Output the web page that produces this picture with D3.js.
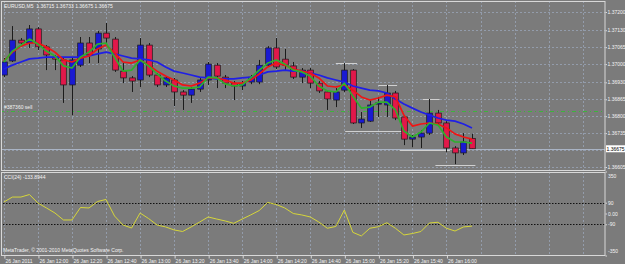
<!DOCTYPE html>
<html>
<head>
<meta charset="utf-8">
<script src="https://cdn.jsdelivr.net/npm/d3@7"></script>
<style>
  html, body { margin: 0; padding: 0; background: #7b7b7b; }
  svg { display: block; }
  text { font-family: "Liberation Sans", Arial, sans-serif; font-size: 5px; fill: #f4f4f4; }
</style>
</head>
<body>
<div id="chart"></div>
<script>
// EURUSD M5, 26 Jan 2011 11:40 .. 16:15, one entry per bar
const open  = [1.36958,1.37012,1.37092,1.37081,1.37135,1.37066,1.37027,1.37016,1.36920,1.36996,
               1.37081,1.37058,1.37119,1.37096,1.36973,1.36947,1.36939,1.37073,1.36958,1.36920,
               1.36939,1.36893,1.36881,1.36904,1.36939,1.36996,1.36950,1.36927,1.36916,1.36931,
               1.36931,1.36996,1.37062,1.37019,1.36993,1.36950,1.36977,1.36927,1.36893,1.36862,
               1.36900,1.36977,1.36774,1.36781,1.36847,1.36843,1.36889,1.36797,1.36712,1.36720,
               1.36735,1.36812,1.36774,1.36678,1.36659,1.36715];
const high  = [1.37023,1.37146,1.37100,1.37150,1.37142,1.37073,1.37035,1.37023,1.37027,1.37104,
               1.37104,1.37127,1.37158,1.37104,1.37004,1.36954,1.37100,1.37081,1.36966,1.36954,
               1.36947,1.36900,1.36912,1.36947,1.37008,1.37004,1.36958,1.36935,1.36935,1.36958,
               1.37016,1.37069,1.37100,1.37058,1.37008,1.36985,1.36985,1.36935,1.36900,1.36908,
               1.37004,1.36981,1.36816,1.36862,1.36874,1.36920,1.36897,1.36804,1.36728,1.36747,
               1.36866,1.36824,1.36781,1.36685,1.36735,1.36733];
const low   = [1.36950,1.37008,1.37069,1.37062,1.37054,1.36977,1.36977,1.36851,1.36804,1.36989,
               1.37004,1.37004,1.37081,1.36970,1.36927,1.36893,1.36912,1.36950,1.36912,1.36912,
               1.36839,1.36824,1.36851,1.36893,1.36920,1.36908,1.36908,1.36862,1.36900,1.36923,
               1.36923,1.36989,1.36981,1.36977,1.36943,1.36927,1.36908,1.36889,1.36824,1.36835,
               1.36893,1.36770,1.36755,1.36778,1.36797,1.36797,1.36785,1.36689,1.36681,1.36678,
               1.36728,1.36766,1.36662,1.36616,1.36651,1.36675];
const close = [1.37008,1.37092,1.37081,1.37135,1.37066,1.37035,1.37019,1.36920,1.37016,1.37081,
               1.37035,1.37119,1.37100,1.36977,1.36947,1.36935,1.37073,1.36958,1.36920,1.36947,
               1.36893,1.36881,1.36904,1.36939,1.37000,1.36954,1.36927,1.36916,1.36927,1.36950,
               1.36996,1.37062,1.36989,1.36996,1.36950,1.36977,1.36927,1.36897,1.36866,1.36893,
               1.36977,1.36774,1.36789,1.36843,1.36851,1.36889,1.36793,1.36712,1.36720,1.36735,
               1.36812,1.36774,1.36678,1.36659,1.36701,1.36675];

const maSlow = [1.36981,1.36996,1.37008,1.37020,1.37023,1.37027,1.37027,1.37027,1.37027,1.37027,
                1.37031,1.37039,1.37046,1.37039,1.37031,1.37023,1.37020,1.37016,1.37008,1.36989,
                1.36973,1.36966,1.36958,1.36950,1.36947,1.36943,1.36943,1.36943,1.36947,1.36950,
                1.36958,1.36970,1.36973,1.36977,1.36973,1.36973,1.36966,1.36958,1.36947,1.36939,
                1.36931,1.36916,1.36908,1.36900,1.36897,1.36889,1.36866,1.36847,1.36831,1.36816,
                1.36804,1.36793,1.36785,1.36781,1.36770,1.36755];
const maMid  = [1.37012,1.37046,1.37069,1.37081,1.37081,1.37066,1.37046,1.37016,1.37008,1.37023,
                1.37031,1.37058,1.37073,1.37043,1.37008,1.37004,1.37016,1.36996,1.36973,1.36954,
                1.36939,1.36920,1.36916,1.36927,1.36947,1.36947,1.36939,1.36927,1.36927,1.36939,
                1.36962,1.36989,1.37004,1.36996,1.36981,1.36973,1.36966,1.36947,1.36916,1.36912,
                1.36920,1.36900,1.36874,1.36862,1.36870,1.36881,1.36874,1.36804,1.36762,1.36770,
                1.36774,1.36770,1.36755,1.36732,1.36720,1.36712];
const maFast = [1.37008,1.37050,1.37073,1.37096,1.37077,1.37050,1.37031,1.36993,1.36985,1.37027,
                1.37046,1.37077,1.37081,1.37027,1.36973,1.36977,1.37016,1.36993,1.36962,1.36935,
                1.36916,1.36908,1.36908,1.36912,1.36950,1.36947,1.36924,1.36916,1.36920,1.36947,
                1.36977,1.37004,1.37016,1.37000,1.36977,1.36970,1.36954,1.36916,1.36897,1.36893,
                1.36927,1.36877,1.36831,1.36835,1.36854,1.36854,1.36824,1.36743,1.36720,1.36739,
                1.36774,1.36766,1.36720,1.36701,1.36701,1.36697];

const cci = [96,137,137,158,87,46,4,-54,-54,50,
             46,100,117,-21,-96,-121,4,-42,-96,-112,
             -137,-150,-112,-71,-29,-46,-62,-82,-46,-12,
             25,92,75,46,0,-12,-29,-71,-123,-108,
             29,-157,-187,-123,-110,-77,-123,-179,-167,-150,
             -79,-73,-123,-146,-112,-105];

// light horizontal segments (bar index from, bar index to, price)
const levelFrom  = [39.0, 44.0, 49.2, 40.1, 46.5, 50.7];
const levelTo    = [41.5, 46.2, 51.2, 47.5, 52.4, 55.4];
const levelPrice = [1.37004, 1.36918, 1.36866, 1.36745, 1.36670, 1.36612];

const priceTicks = [1.37200, 1.37130, 1.37065, 1.37000, 1.36930, 1.36865, 1.36800, 1.36735, 1.36670, 1.36605];
const timeLabels = ["26 Jan 2011", "26 Jan 12:00", "26 Jan 12:20", "26 Jan 12:40", "26 Jan 13:00",
                    "26 Jan 13:20", "26 Jan 13:40", "26 Jan 14:00", "26 Jan 14:20", "26 Jan 14:40",
                    "26 Jan 15:00", "26 Jan 15:20", "26 Jan 15:40", "26 Jan 16:00"];
const timeLabelBars = [0, 4, 8, 12, 16, 20, 24, 28, 32, 36, 40, 44, 48, 52];
const gridBars = [0, 4, 8, 12, 16, 20, 24, 28, 32, 36, 40, 44, 48, 52, 56, 60, 64, 68];
const cciTicks = [350, 90, 0, -90, -350];
const cciLevels = [90, -90];

const orderPrice = 1.36820;
const orderLabel = "#387360 sell";
const bidPrice = 1.36675;
const title = "EURUSD,M5  1.36715 1.36733 1.36675 1.36675";
const cciTitle = "CCI(24) -133.8944";
const copyright = "MetaTrader, \u00a9 2001-2010 MetaQuotes Software Corp.";

document.addEventListener("DOMContentLoaded", draw);

function draw() {
    const width = 625, height = 264;
    const right = 605;               // right edge of both windows
    const main = { top: 1, bottom: 170 };
    const sub = { top: 172, bottom: 255 };

    const x = d3.scaleLinear().domain([0, 55]).range([3.9, 472]);
    const y = d3.scaleLinear().domain([1.36605, 1.37200]).range([167, 12]);
    const yc = d3.scaleLinear().domain([-350, 350]).range([255.5, 171.5]);

    const svg = d3.select("#chart").append("svg")
        .attr("width", width)
        .attr("height", height);

    svg.append("rect").attr("width", width).attr("height", height).attr("fill", "#7b7b7b");

    const defs = svg.append("defs");
    defs.append("clipPath").attr("id", "clipMain").append("rect")
        .attr("x", 1.5).attr("y", main.top + 0.5).attr("width", right - 1.5).attr("height", main.bottom - main.top - 0.5);
    defs.append("clipPath").attr("id", "clipSub").append("rect")
        .attr("x", 1.5).attr("y", sub.top + 0.5).attr("width", right - 1.5).attr("height", sub.bottom - sub.top - 0.5);

    const gMain = svg.append("g").attr("clip-path", "url(#clipMain)");
    const gSub = svg.append("g").attr("clip-path", "url(#clipSub)");

    const gridColor = "#939cab";

    // grid
    gMain.append("g").selectAll("line")
        .data(priceTicks)
        .join("line")
        .attr("x1", 0).attr("x2", right)
        .attr("y1", d => Math.round(y(d)) + 0.5).attr("y2", d => Math.round(y(d)) + 0.5)
        .attr("stroke", gridColor)
        .attr("stroke-dasharray", "2,2");

    [gMain, gSub].forEach((g, k) => {
        g.append("g").selectAll("line")
            .data(gridBars)
            .join("line")
            .attr("x1", d => Math.round(x(d)) + 0.5).attr("x2", d => Math.round(x(d)) + 0.5)
            .attr("y1", k ? sub.top : main.top).attr("y2", k ? sub.bottom : main.bottom)
            .attr("stroke", gridColor)
            .attr("stroke-dasharray", "2,2");
    });

    // bid line
    gMain.append("line")
        .attr("x1", 0).attr("x2", right)
        .attr("y1", Math.round(y(bidPrice)) + 0.5).attr("y2", Math.round(y(bidPrice)) + 0.5)
        .attr("stroke", "#a9b3c4");

    // pending order line
    gMain.append("line")
        .attr("x1", 0).attr("x2", right)
        .attr("y1", Math.round(y(orderPrice)) + 0.5).attr("y2", Math.round(y(orderPrice)) + 0.5)
        .attr("stroke", "#3cb43c")
        .attr("stroke-dasharray", "4,3,1,3");

    gMain.append("text")
        .attr("x", 4).attr("y", y(orderPrice) - 2)
        .text(orderLabel);

    // level segments
    gMain.append("g").selectAll("line")
        .data(levelPrice)
        .join("line")
        .attr("x1", (d, i) => x(levelFrom[i])).attr("x2", (d, i) => x(levelTo[i]))
        .attr("y1", d => Math.round(y(d)) + 0.5).attr("y2", d => Math.round(y(d)) + 0.5)
        .attr("stroke", "#d0d0d0");

    // candles
    const bars = d3.range(open.length);
    const half = 2.8;

    gMain.append("g").selectAll("line")
        .data(bars)
        .join("line")
        .attr("x1", i => Math.round(x(i)) + 0.5).attr("x2", i => Math.round(x(i)) + 0.5)
        .attr("y1", i => y(high[i])).attr("y2", i => y(low[i]))
        .attr("stroke", "#1c1c1c");

    gMain.append("g").selectAll("rect")
        .data(bars)
        .join("rect")
        .attr("x", i => Math.round(x(i)) + 0.5 - half)
        .attr("width", half * 2)
        .attr("y", i => y(Math.max(open[i], close[i])))
        .attr("height", i => Math.max(1.2, Math.abs(y(open[i]) - y(close[i]))))
        .attr("fill", i => close[i] >= open[i] ? "#1a1ad2" : "#e2184a")
        .attr("stroke", "#1a1a1a")
        .attr("stroke-width", 0.7);

    // moving averages
    const line = d3.line().x((d, i) => x(i)).y(d => y(d));
    [[maSlow, "#1f1fe6"], [maMid, "#f01414"], [maFast, "#2eb02e"]].forEach(([s, c]) => {
        gMain.append("path")
            .attr("d", line(s))
            .attr("fill", "none")
            .attr("stroke", c)
            .attr("stroke-width", 1.7)
            .attr("stroke-linejoin", "round");
    });

    // CCI window
    gSub.append("g").selectAll("line")
        .data(cciLevels)
        .join("line")
        .attr("x1", 0).attr("x2", right)
        .attr("y1", d => Math.round(yc(d)) + 0.5).attr("y2", d => Math.round(yc(d)) + 0.5)
        .attr("stroke", "#111")
        .attr("stroke-dasharray", "1.5,1.5");

    gSub.append("path")
        .attr("d", d3.line().x((d, i) => x(i)).y(d => yc(d))(cci))
        .attr("fill", "none")
        .attr("stroke", "#d6d63a")
        .attr("stroke-width", 1);

    // window frames
    const frame = "#d8d8d8";
    [main, sub].forEach(w => {
        svg.append("rect")
            .attr("x", 1.5).attr("y", w.top + 0.5)
            .attr("width", right - 1.5).attr("height", w.bottom - w.top)
            .attr("fill", "none")
            .attr("stroke", frame);
    });

    // price axis
    const pAxis = svg.append("g")
        .attr("transform", `translate(${right + 0.5},0)`)
        .call(d3.axisRight(y).tickValues(priceTicks.filter(d => d !== 1.36670))
            .tickFormat(d3.format(".5f")).tickSize(1.5).tickPadding(0.5));
    pAxis.select(".domain").remove();
    pAxis.selectAll("line").attr("stroke", frame);
    pAxis.selectAll("text").attr("font-size", 4.8).attr("fill", "#f4f4f4").attr("font-family", null);

    // bid label
    svg.append("rect")
        .attr("x", right + 1).attr("y", y(bidPrice) - 3.5)
        .attr("width", 19).attr("height", 7)
        .attr("fill", "#ffffff");
    svg.append("text")
        .attr("x", right + 1.5).attr("y", y(bidPrice) + 1.8)
        .attr("font-size", 4.8)
        .style("fill", "#000")
        .text(d3.format(".5f")(bidPrice));

    // CCI axis
    const cAxis = svg.append("g")
        .attr("transform", `translate(${right + 0.5},0)`)
        .call(d3.axisRight(yc).tickValues(cciTicks)
            .tickFormat(d => d === 0 ? "0.00" : d).tickSize(1.5).tickPadding(1));
    cAxis.select(".domain").remove();
    cAxis.selectAll("line").attr("stroke", frame);
    cAxis.selectAll("text").attr("font-size", 4.8).attr("fill", "#f4f4f4").attr("font-family", null)
        .attr("dy", d => d === 350 ? "1.1em" : d === -350 ? "-0.6em" : "0.32em");

    // time axis
    const tAxis = svg.append("g")
        .attr("transform", `translate(0,${sub.bottom + 0.5})`)
        .call(d3.axisBottom(x).tickValues(timeLabelBars)
            .tickFormat((d, i) => timeLabels[i]).tickSize(3).tickPadding(1));
    tAxis.select(".domain").remove();
    tAxis.selectAll("line").attr("stroke", frame).attr("transform", "translate(0.5,0)");
    tAxis.selectAll("text").attr("font-size", 5).attr("fill", "#f4f4f4").attr("font-family", null)
        .attr("text-anchor", "start").attr("dx", 1);

    // captions
    svg.append("text").attr("x", 4).attr("y", 7.5).text(title).attr("xml:space", "preserve");
    svg.append("text").attr("x", 4).attr("y", 178.5).text(cciTitle);
    svg.append("text").attr("x", 3).attr("y", 252).text(copyright);
}
</script>
</body>
</html>
